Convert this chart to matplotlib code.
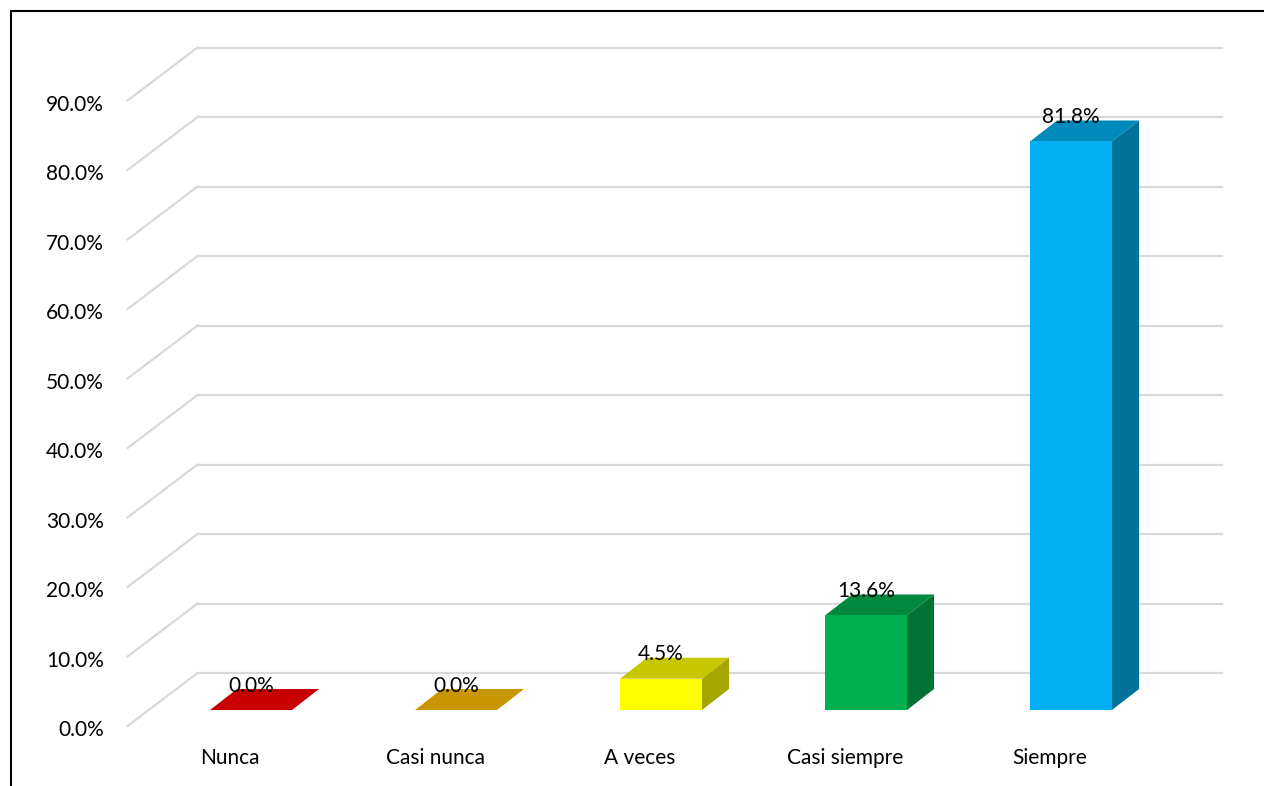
import matplotlib.pyplot as plt
from matplotlib.patches import Polygon
from matplotlib.lines import Line2D
from matplotlib.colors import to_rgb

# Data
categorias = ['Nunca', 'Casi nunca', 'A veces', 'Casi siempre', 'Siempre']
valores = [0.0, 0.0, 4.5, 13.6, 81.8]
colores = ['#FF0000', '#FFC000', '#FFFF00', '#00B050', '#00B0F0']
ticks = [0, 10, 20, 30, 40, 50, 60, 70, 80, 90]

plt.rcParams['font.family'] = ['Lato', 'DejaVu Sans']

fig = plt.figure(figsize=(12.64, 7.86), dpi=100)
ax = fig.add_axes([0.1175, 0.0967, 0.8109, 0.7958])
ax.set_xlim(-0.5, 4.5)
ax.set_ylim(0, 90)
ax.axis('off')

# depth offsets in data units
ancho = 0.4
prof = (0.132, 3.02)      # bar depth
pared = (0.239, 5.32)     # back wall
frente = (-0.102, -2.30)  # front of floor

grid_c = '#D9D9D9'
for t in ticks:
    x0 = -0.5
    ax.plot([x0 + frente[0], x0 + pared[0]], [t + frente[1], t + pared[1]],
            color=grid_c, lw=1.6, clip_on=False, zorder=1)
    ax.plot([x0 + pared[0], 4.5 + pared[0]], [t + pared[1], t + pared[1]],
            color=grid_c, lw=1.6, clip_on=False, zorder=1)
    ax.text(-0.717, t + frente[1] - 0.6, f'{t:.1f}%', ha='right', va='center',
            fontsize=15, color='black')


def sombra(c, f):
    r, g, b = to_rgb(c)
    return (r * f, g * f, b * f)


for i, (v, c) in enumerate(zip(valores, colores)):
    xl, xr = i - ancho / 2, i + ancho / 2
    dx, dy = prof
    # top
    ax.add_patch(Polygon([(xl, v), (xr, v), (xr + dx, v + dy), (xl + dx, v + dy)],
                         closed=True, facecolor=sombra(c, 0.78), edgecolor='none',
                         clip_on=False, zorder=3))
    if v > 0:
        ax.add_patch(Polygon([(xl, 0), (xr, 0), (xr, v), (xl, v)], closed=True,
                             facecolor=c, edgecolor='none', clip_on=False, zorder=3))
        ax.add_patch(Polygon([(xr, 0), (xr + dx, dy), (xr + dx, v + dy), (xr, v)],
                             closed=True, facecolor=sombra(c, 0.65), edgecolor='none',
                             clip_on=False, zorder=3))
    ax.text(i, v + dy + 0.5, f'{v:.1f}%', ha='center', va='center',
            fontsize=15, color='black', zorder=5)
    ax.text(i + frente[0], -6.9, categorias[i], ha='center', va='center',
            fontsize=15, color='black')

# outer frame (left and top edges visible)
fig.add_artist(Line2D([11 / 1264, 11 / 1264], [0, 1 - 11 / 786],
                      transform=fig.transFigure, color='black', lw=1.5))
fig.add_artist(Line2D([11 / 1264, 1], [1 - 11 / 786, 1 - 11 / 786],
                      transform=fig.transFigure, color='black', lw=1.5))

fig.savefig('out.png', dpi=100, facecolor='white')
